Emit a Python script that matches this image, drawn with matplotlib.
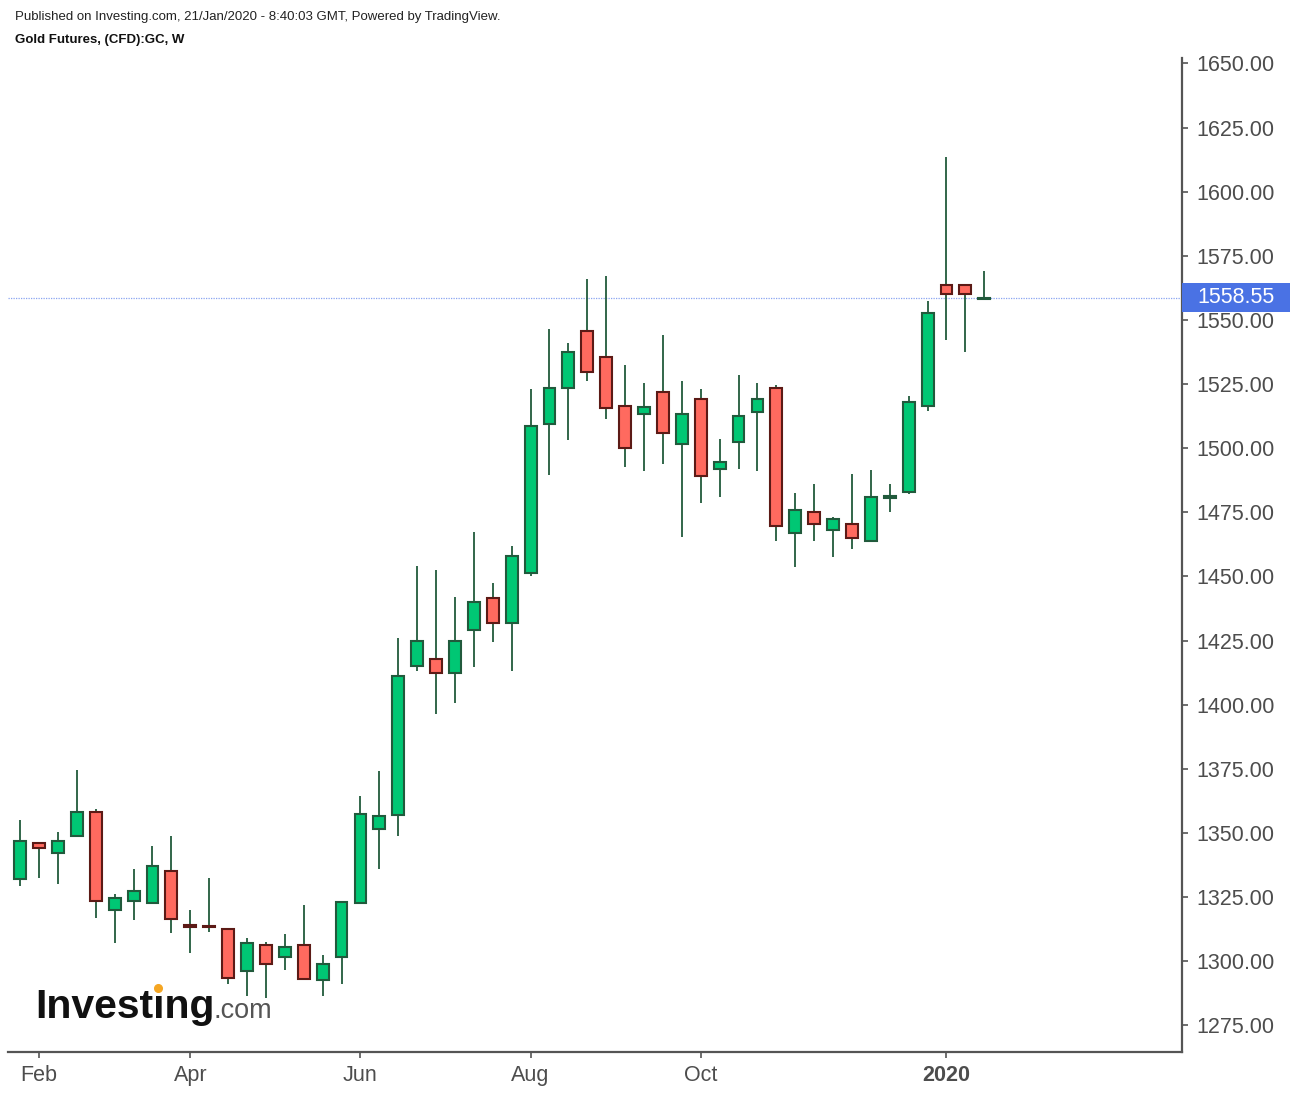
"""Weekly gold futures candlestick chart (Investing.com / TradingView style)"""

import pandas as pd
from matplotlib import pyplot as plt
from matplotlib.lines import Line2D
from matplotlib.patches import Rectangle
from matplotlib import transforms

plt.rcParams["font.family"] = ["Liberation Sans", "DejaVu Sans"]

# weekly bars, first bar is the week of 28 Jan 2019
dates = pd.date_range("2019-01-28", periods=52, freq="W-MON")

opens = [1332, 1346, 1342, 1349, 1358, 1320, 1323.5, 1322.5, 1335, 1314,
         1313.5, 1312.5, 1296, 1306.5, 1301.5, 1306.5, 1292.5, 1301.5, 1322.5, 1351.5,
         1357, 1415, 1418, 1412.5, 1429, 1441.5, 1432, 1451.5, 1509.5, 1523.5,
         1545.5, 1535.5, 1516.5, 1513.5, 1522, 1501.5, 1519, 1492, 1502.5, 1514,
         1523.5, 1467, 1475, 1468, 1470.5, 1464, 1480.5, 1483, 1516.5, 1563.5,
         1563.5, 1558]
highs = [1355, 1346.5, 1350.5, 1374.5, 1359.5, 1326, 1336, 1345, 1349, 1320,
         1332.5, 1312.5, 1309, 1307.5, 1310.5, 1322, 1302.5, 1323, 1364.5, 1374,
         1426, 1454, 1452.5, 1442, 1467.5, 1447.5, 1462, 1523, 1546.5, 1541,
         1566, 1567, 1532.5, 1525.5, 1544, 1526, 1523, 1503.5, 1528.5, 1525.5,
         1524.5, 1482.5, 1486, 1473, 1490, 1491.5, 1486, 1520.5, 1557.5, 1613.5,
         1563.5, 1569]
lows = [1329.5, 1332.5, 1330, 1349, 1317, 1307, 1316, 1322.5, 1311, 1303,
        1311.5, 1291, 1286.5, 1285.5, 1296.5, 1292.5, 1286.5, 1291, 1322.5, 1336,
        1349, 1413, 1396.5, 1400.5, 1414.5, 1424.5, 1413, 1450, 1489.5, 1503,
        1526, 1511.5, 1492.5, 1491, 1494, 1465.5, 1478.5, 1481, 1492, 1491,
        1464, 1453.5, 1464, 1457.5, 1460.5, 1464, 1475, 1482, 1514.5, 1542,
        1537.5, 1558]
closes = [1347, 1344, 1347, 1358, 1323.5, 1324.5, 1327.5, 1337, 1316.5, 1313.5,
          1313.2, 1293.5, 1307, 1299, 1305.5, 1293, 1299, 1323, 1357.5, 1356.5,
          1411, 1425, 1412.5, 1425, 1440, 1432, 1458, 1508.5, 1523.5, 1537.5,
          1529.5, 1515.5, 1500, 1516, 1506, 1513.5, 1489, 1494.5, 1512.5, 1519,
          1469.5, 1476, 1470.5, 1472.5, 1465, 1481, 1481.2, 1518, 1552.5, 1560,
          1560, 1558.55]
last_price = 1558.55

month_ticks = {1: "Feb", 9: "Apr", 18: "Jun", 27: "Aug", 36: "Oct", 49: "2020"}
price_ticks = list(range(1275, 1651, 25))

UP_FILL, UP_EDGE = "#00c774", "#215a3c"
DOWN_FILL, DOWN_EDGE = "#ff6a5f", "#5c1a16"
WICK = "#215a3c"
AXIS_GRAY = "#555555"
LABEL_GRAY = "#4d4d4d"

fig = plt.figure(figsize=(12.9, 10.94), dpi=100)
ax = fig.add_axes([8 / 1290, 42 / 1094, 1174 / 1290, 994 / 1094])

ax.vlines(dates, lows, highs, color=WICK, linewidth=1.3, zorder=2)
bottoms, heights, fills, edges = [], [], [], []
for o, c in zip(opens, closes):
    rising = c >= o
    bottoms.append(min(o, c))
    heights.append(max(abs(c - o), 0.6))
    fills.append(UP_FILL if rising else DOWN_FILL)
    edges.append(UP_EDGE if rising else DOWN_EDGE)
ax.bar(dates, heights, bottom=bottoms, width=4.4, color=fills,
       edgecolor=edges, linewidth=1.5, zorder=3)

# last price line and label
ax.axhline(last_price, color="#8aa4f0", linestyle=(0, (1, 1)), linewidth=0.9, zorder=1)
blend = transforms.blended_transform_factory(ax.transAxes, ax.transData)
ax.add_patch(Rectangle((1.0, last_price - 5.65), 0.1, 11.3, transform=blend,
                       facecolor="#4a72e4", edgecolor="none", clip_on=False, zorder=5))
ax.text(1 + 15 / 1174, last_price, f"{last_price:.2f}", transform=blend,
        color="white", fontsize=15.5, va="center", ha="left", zorder=6)

ax.set_xlim(dates[0] - pd.Timedelta(days=4.5), dates[0] + pd.Timedelta(days=430.2))
ax.set_ylim(1264.6, 1652.1)

ax.yaxis.tick_right()
ax.set_yticks(price_ticks)
ax.set_yticklabels([f"{p:.2f}" for p in price_ticks])
ax.set_xticks([dates[i] for i in month_ticks])
ax.set_xticklabels(list(month_ticks.values()))
ax.get_xticklabels()[-1].set_fontweight("bold")
ax.tick_params(axis="both", length=4.5, width=1.2, color=AXIS_GRAY,
               labelsize=15.5, labelcolor=LABEL_GRAY, pad=6)
ax.tick_params(axis="x", pad=5)

for side in ("left", "top"):
    ax.spines[side].set_visible(False)
for side in ("right", "bottom"):
    ax.spines[side].set_color(AXIS_GRAY)
    ax.spines[side].set_linewidth(1.6)

fig.text(15 / 1290, 1 - 17 / 1094,
         "Published on Investing.com, 21/Jan/2020 - 8:40:03 GMT, Powered by TradingView.",
         fontsize=9.5, color="#222222", va="center")
fig.text(15 / 1290, 1 - 40 / 1094, "Gold Futures, (CFD):GC, W",
         fontsize=9.5, fontweight="bold", color="#111111", va="center")

# Investing.com logo
fig.text(35 / 1290, 1 - 1018 / 1094, "Invest\u0131ng", fontsize=29.5,
         fontweight="bold", color="#111111", va="baseline")
fig.text(213 / 1290, 1 - 1018 / 1094, ".com", fontsize=19.5,
         color="#555555", va="baseline")
fig.add_artist(Line2D([158 / 1290], [1 - 988 / 1094], marker="o", markersize=5.5,
                      color="#f5a623", transform=fig.transFigure))

fig.savefig("out.png", dpi=100)
